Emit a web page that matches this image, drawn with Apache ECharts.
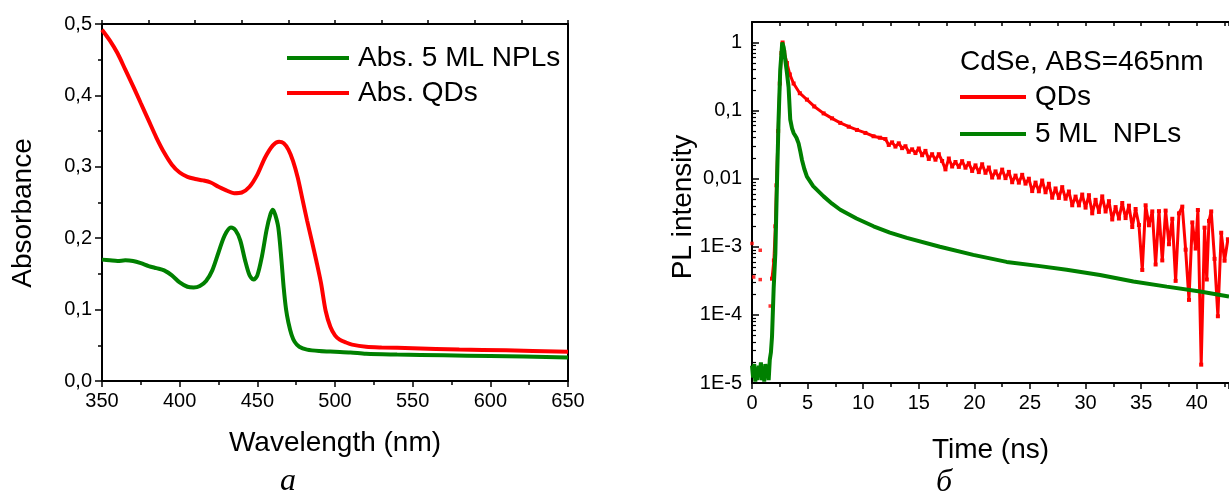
<!DOCTYPE html>
<html>
<head>
<meta charset="utf-8">
<script src="https://cdn.jsdelivr.net/npm/echarts@6/dist/echarts.min.js"></script>
<style>
html,body{margin:0;padding:0;background:#fff;}
#chart{width:1229px;height:496px;}
</style>
</head>
<body>
<div id="chart"></div>
<script>
// ---------- Panel a: absorbance ----------
const nplAbsX = [350,355,360,365,370,375,380,385,390,395,400,405,409,413,417,421,425,429,433,436,439,442,445,447.5,450,453,456,458.5,460,461.5,463.5,465.5,467,468.5,470,472,474,477,482,490,500,510,520,540,570,600,650];
const nplAbsY = [0.170,0.169,0.168,0.169,0.168,0.165,0.161,0.158,0.155,0.148,0.138,0.132,0.131,0.133,0.140,0.155,0.180,0.204,0.215,0.211,0.197,0.170,0.148,0.142,0.148,0.175,0.212,0.234,0.240,0.233,0.215,0.170,0.130,0.100,0.082,0.065,0.055,0.048,0.044,0.042,0.041,0.040,0.038,0.037,0.036,0.035,0.033];
const qdAbsX = [350,355,360,365,370,375,380,385,390,395,400,405,410,415,420,425,430,435,440,445,450,455,460,464,467,470,473,476,479,482,485,488,491,494,497,500,503,507,511,520,530,550,580,610,650];
const qdAbsY = [0.492,0.477,0.459,0.436,0.413,0.389,0.365,0.341,0.320,0.303,0.292,0.286,0.283,0.281,0.278,0.272,0.267,0.263,0.264,0.272,0.289,0.313,0.330,0.335,0.333,0.324,0.308,0.285,0.255,0.225,0.197,0.168,0.137,0.098,0.076,0.064,0.058,0.054,0.051,0.048,0.047,0.046,0.044,0.043,0.041];
const absXTicks = {min:350, max:650, interval:50};
const absYTicks = {min:0, max:0.5, interval:0.1};

// ---------- Panel б: PL decay [time ns, intensity] ----------
const nplPL = [[0.0,1.8e-5],[0.1,1.2e-5],[0.2,1.9e-5],[0.3,1.05e-5],[0.4,1.7e-5],[0.5,1.1e-5],[0.6,1.8e-5],[0.7,1.3e-5],[0.8,2.0e-5],[0.9,1.1e-5],[1.0,1.6e-5],[1.1,1.05e-5],[1.2,1.9e-5],[1.3,1.2e-5],[1.4,1.7e-5],[1.5,1.1e-5],[1.6,2.2e-5],[1.7,2.8e-5],[1.8,4.8e-5],[1.95,2.5e-4],[2.1,8e-4],[2.24,7.8e-3],[2.39,0.074],[2.54,0.40],[2.72,1.0],[2.85,0.85],[2.99,0.56],[3.15,0.35],[3.29,0.22],[3.44,0.074],[3.6,0.055],[3.74,0.047],[4.0,0.040],[4.19,0.033],[4.35,0.025],[4.49,0.019],[4.7,0.014],[4.94,0.0107],[5.5,0.0078],[6.44,0.0055],[7.2,0.0043],[7.94,0.0035],[9.4,0.0026],[10.93,0.0020],[12.4,0.00162],[13.93,0.00135],[16.9,0.0010],[19.9,7.6e-4],[22.9,6.0e-4],[25.9,5.2e-4],[28.3,4.6e-4],[31.3,3.85e-4],[34.3,3.1e-4],[37.3,2.6e-4],[40.3,2.2e-4],[42.9,1.86e-4]];
const qdPL = [[1.8,3.4e-4],[1.97,6.3e-4],[2.1,2.0e-3],[2.2,8.0e-3],[2.35,5.0e-2],[2.5,0.25],[2.65,0.70],[2.75,1.0],[2.9,0.72],[3.14,0.50],[3.4,0.34],[3.74,0.25],[4.3,0.18],[4.94,0.145],[5.6,0.115],[6.44,0.091],[7.2,0.077],[7.94,0.066],[8.7,0.058],[9.44,0.052],[10.2,0.047],[10.93,0.042],[11.5,0.040],
[12.0,3.82e-2],[12.3,3.13e-2],[12.6,3.42e-2],[12.9,2.96e-2],[13.2,3.31e-2],[13.5,2.81e-2],[13.8,3.00e-2],[14.1,2.48e-2],[14.4,2.70e-2],[14.7,2.38e-2],[15.0,2.78e-2],[15.3,2.21e-2],[15.6,2.56e-2],[15.9,1.95e-2],[16.2,2.29e-2],[16.5,1.90e-2],[16.8,2.29e-2],[17.1,1.82e-2],[17.4,1.37e-2],[17.7,1.98e-2],[18.0,1.51e-2],[18.3,1.76e-2],[18.6,1.49e-2],[18.9,1.81e-2],[19.2,1.45e-2],[19.5,1.69e-2],[19.8,1.30e-2],[20.1,1.57e-2],[20.4,1.25e-2],[20.7,1.63e-2],[21.0,1.22e-2],[21.3,1.46e-2],[21.6,1.04e-2],[21.9,1.28e-2],[22.2,1.04e-2],[22.5,1.36e-2],[22.8,1.02e-2],[23.1,1.26e-2],[23.4,8.87e-3],[23.7,1.11e-2],[24.0,8.75e-3],[24.3,1.14e-2],[24.6,8.47e-3],[24.9,1.00e-2],[25.2,6.58e-3],[25.5,8.77e-3],[25.8,6.53e-3],[26.1,9.40e-3],[26.4,6.32e-3],[26.7,8.43e-3],[27.0,5.26e-3],[27.3,7.19e-3],[27.6,5.22e-3],[27.9,7.52e-3],[28.2,5.08e-3],[28.5,6.49e-3],[28.8,4.07e-3],[29.1,5.46e-3],[29.4,4.06e-3],[29.7,5.85e-3],[30.0,3.76e-3],[30.3,5.73e-3],[30.6,3.10e-3],[30.9,4.89e-3],[31.2,3.25e-3],[31.5,5.50e-3],[31.8,3.30e-3],[32.1,4.68e-3],[32.4,2.52e-3],[32.7,3.83e-3],[33.0,2.60e-3],[33.3,4.40e-3],[33.6,2.64e-3],[33.9,4.02e-3],[34.2,1.95e-3],[34.5,3.59e-3],[34.8,2.09e-3],[35.1,4.57e-4],[35.4,4.07e-3],[35.7,2.07e-3],[36.0,3.31e-3],[36.3,5.50e-4],[36.6,3.34e-3],[36.9,6.31e-4],[37.2,3.40e-3],[37.5,1.09e-3],[37.8,2.58e-3],[38.1,3.16e-4],[38.4,3.10e-3],[38.7,3.89e-3],[39.0,9.08e-4],[39.3,1.66e-4],[39.6,2.28e-3],[39.9,9.42e-4],[40.1,3.47e-3],[40.4,1.86e-5],[40.7,1.91e-3],[40.9,3.31e-4],[41.1,2.40e-3],[41.3,3.31e-3],[41.6,6.65e-4],[41.9,9.55e-5],[42.2,1.61e-3],[42.5,6.25e-4],[42.8,1.29e-3]];
const qdStray = [[0.0,1.12e-3],[0.15,3.6e-4],[0.74,8.9e-4],[0.74,3.3e-4],[1.64,1.35e-4]];
const plXTicks = {min:0, max:42.9, interval:5};
const plYRange = {min:1e-5, max:2};

const FONT = '"Liberation Sans", Arial, sans-serif';
const RED = '#ff0000', GREEN = '#008000';
const chart = echarts.init(document.getElementById('chart'), null, {renderer:'canvas'});

const labelStyle = {color:'#000', fontSize:20, fontFamily:FONT};
const axisLine = {show:true, onZero:false, lineStyle:{color:'#000', width:2}};

function plLabel(v){
  if (v >= 0.01) return String(+v.toPrecision(3)).replace('.', ',');
  return '1E' + Math.round(Math.log10(v));
}

const option = {
  animation:false,
  backgroundColor:'#fff',
  grid:[
    {left:102, top:24, width:466, height:357, containLabel:false, outerBoundsMode:'none'},
    {left:752, top:22, width:477, height:361, containLabel:false, outerBoundsMode:'none'}
  ],
  xAxis:[
    {type:'value', gridIndex:0, min:absXTicks.min, max:absXTicks.max, interval:absXTicks.interval,
     axisLine, axisTick:{show:true, inside:false, length:6, lineStyle:{color:'#000', width:1.5}},
     minorTick:{show:true, splitNumber:2, length:4, lineStyle:{color:'#000', width:1.5}},
     axisLabel:{...labelStyle, margin:10}, splitLine:{show:false},
     name:'Wavelength (nm)', nameLocation:'middle', nameGap:48,
     nameTextStyle:{color:'#000', fontSize:28, fontFamily:FONT}},
    {type:'value', gridIndex:0, position:'top', min:absXTicks.min, max:absXTicks.max, interval:30,
     axisLine, axisTick:{show:true, inside:false, length:4, lineStyle:{color:'#000', width:1.5}},
     axisLabel:{show:false}, splitLine:{show:false}},
    {type:'value', gridIndex:1, min:plXTicks.min, max:plXTicks.max, interval:plXTicks.interval,
     axisLine, axisTick:{show:true, inside:false, length:6, lineStyle:{color:'#000', width:1.5}},
     minorTick:{show:true, splitNumber:2, length:4, lineStyle:{color:'#000', width:1.5}},
     axisLabel:{...labelStyle, margin:10, showMaxLabel:false}, splitLine:{show:false},
     name:'Time (ns)', nameLocation:'middle', nameGap:53,
     nameTextStyle:{color:'#000', fontSize:28, fontFamily:FONT}},
    {type:'value', gridIndex:1, position:'top', min:plXTicks.min, max:plXTicks.max, interval:2.5,
     axisLine, axisTick:{show:true, inside:true, length:4, lineStyle:{color:'#000', width:1.5}},
     axisLabel:{show:false}, splitLine:{show:false}}
  ],
  yAxis:[
    {type:'value', gridIndex:0, min:absYTicks.min, max:absYTicks.max, interval:absYTicks.interval,
     axisLine, axisTick:{show:true, inside:false, length:7, lineStyle:{color:'#000', width:1.5}},
     minorTick:{show:true, splitNumber:2, length:4, lineStyle:{color:'#000', width:1.5}},
     axisLabel:{...labelStyle, margin:10, formatter:v => v.toFixed(1).replace('.', ',')},
     splitLine:{show:false}},
    {type:'value', gridIndex:0, position:'right', min:absYTicks.min, max:absYTicks.max,
     axisLine, axisTick:{show:false}, axisLabel:{show:false}, splitLine:{show:false}},
    {type:'log', logBase:10, gridIndex:1, min:plYRange.min, max:plYRange.max,
     axisLine, axisTick:{show:true, inside:true, length:7, lineStyle:{color:'#000', width:1.5}},
     minorTick:{show:true, splitNumber:9, length:4, lineStyle:{color:'#000', width:1.2}},
     axisLabel:{...labelStyle, margin:10, showMaxLabel:false, formatter:plLabel},
     splitLine:{show:false}}
  ],
  legend:[
    {left:287, top:44, orient:'vertical', itemWidth:62, itemHeight:4, itemGap:7, icon:'rect',
     selectedMode:false, padding:0,
     textStyle:{color:'#000', fontSize:28, fontFamily:FONT, lineHeight:28, padding:[0,0,0,4]},
     data:['Abs. 5 ML NPLs','Abs. QDs']},
    {left:960, top:83, orient:'vertical', itemWidth:66, itemHeight:4, itemGap:9, icon:'rect',
     selectedMode:false, padding:0,
     textStyle:{color:'#000', fontSize:28, fontFamily:FONT, lineHeight:28, padding:[0,0,0,4]},
     data:['QDs','5 ML  NPLs']}
  ],
  graphic:[
    {type:'text', x:23, y:213, rotation:Math.PI/2,
     style:{text:'Absorbance', fontSize:28, fontFamily:FONT, fill:'#000', align:'center', verticalAlign:'middle'}},
    {type:'text', x:683, y:207, rotation:Math.PI/2,
     style:{text:'PL intensity', fontSize:28, fontFamily:FONT, fill:'#000', align:'center', verticalAlign:'middle'}},
    {type:'text', x:960, y:62,
     style:{text:'CdSe, ABS=465nm', fontSize:28, fontFamily:FONT, fill:'#000', align:'left', verticalAlign:'middle'}},
    {type:'text', x:288, y:482,
     style:{text:'a', fontSize:32, fontStyle:'italic', fontFamily:'"Liberation Serif", "Times New Roman", serif', fill:'#000', align:'center', verticalAlign:'middle'}},
    {type:'text', x:944, y:483,
     style:{text:'б', fontSize:32, fontStyle:'italic', fontFamily:'"Liberation Serif", "Times New Roman", serif', fill:'#000', align:'center', verticalAlign:'middle'}}
  ],
  series:[
    {name:'Abs. QDs', type:'line', xAxisIndex:0, yAxisIndex:0, smooth:0.3, showSymbol:false,
     color:RED, lineStyle:{color:RED, width:4}, data:qdAbsX.map((x,i)=>[x, qdAbsY[i]]), z:2},
    {name:'Abs. 5 ML NPLs', type:'line', xAxisIndex:0, yAxisIndex:0, smooth:0.3, showSymbol:false,
     color:GREEN, lineStyle:{color:GREEN, width:4}, data:nplAbsX.map((x,i)=>[x, nplAbsY[i]]), z:3},
    {name:'QDs', type:'line', xAxisIndex:2, yAxisIndex:2, showSymbol:true, symbol:'rect', symbolSize:4,
     itemStyle:{color:RED}, color:RED, lineStyle:{color:RED, width:3}, data:qdPL, z:2},
    {name:'QDs', type:'scatter', xAxisIndex:2, yAxisIndex:2, symbol:'rect', symbolSize:3.5,
     itemStyle:{color:RED}, data:qdStray, z:2},
    {name:'5 ML  NPLs', type:'line', xAxisIndex:2, yAxisIndex:2, showSymbol:false,
     color:GREEN, lineStyle:{color:GREEN, width:4}, data:nplPL, z:3}
  ]
};
chart.setOption(option);
</script>
</body>
</html>
